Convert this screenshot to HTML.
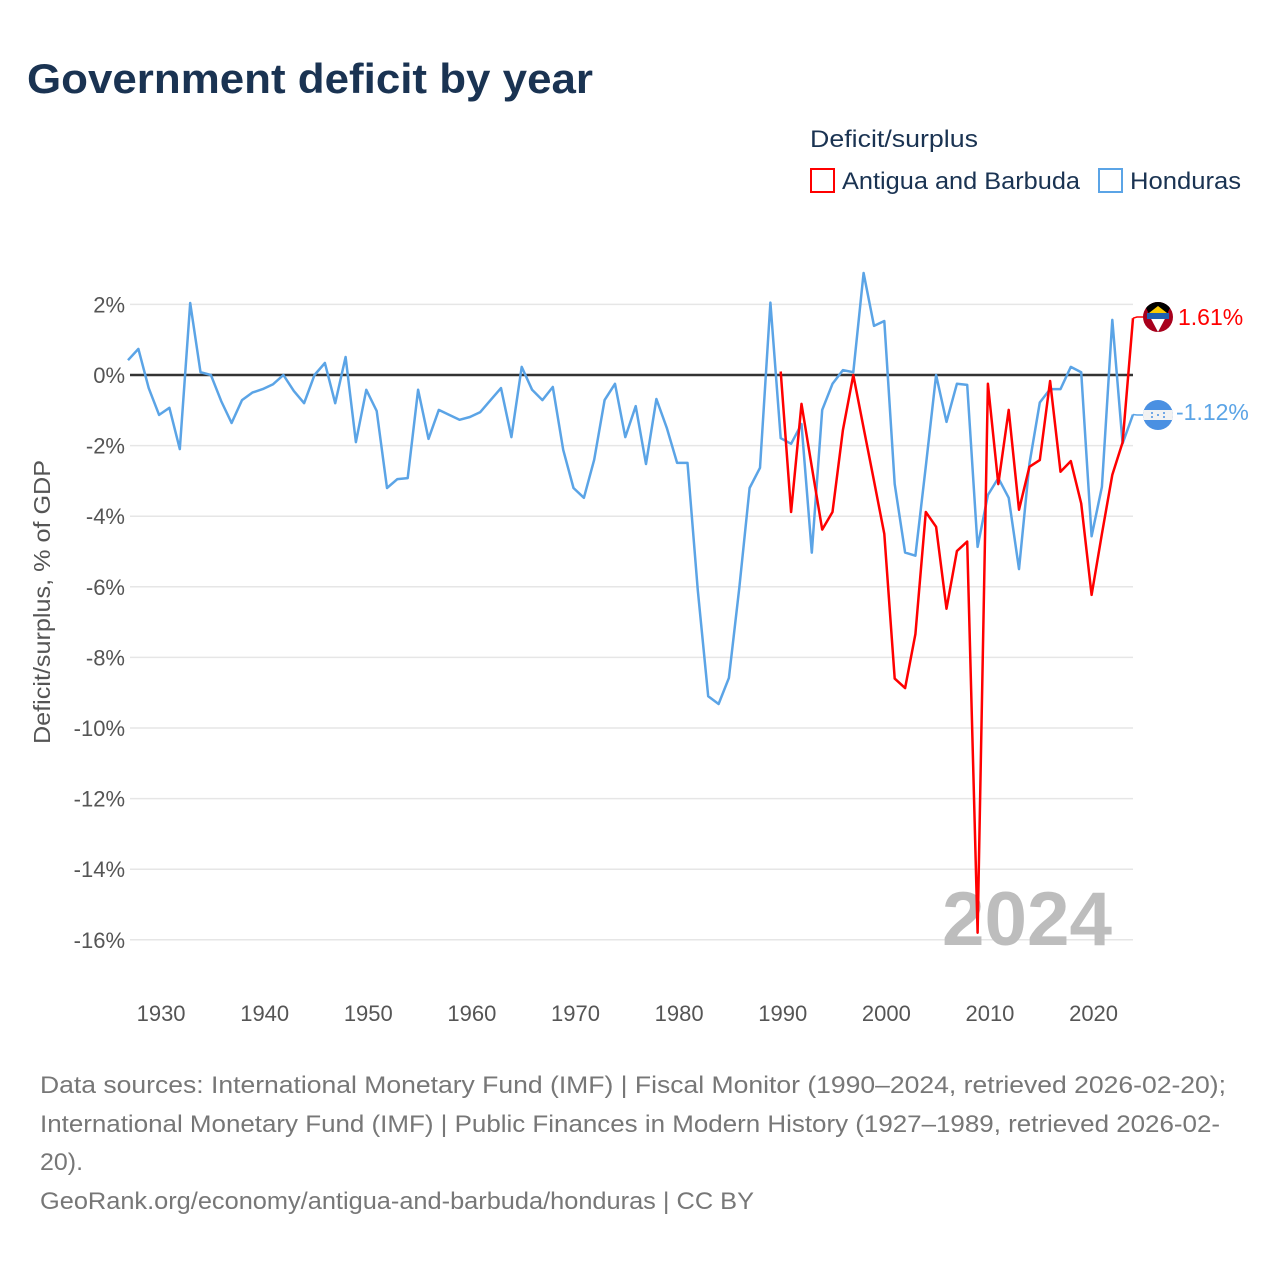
<!DOCTYPE html>
<html><head><meta charset="utf-8"><style>
html,body{margin:0;padding:0;background:#fff;}
svg{display:block;font-family:"Liberation Sans",sans-serif;}
</style></head><body>
<svg id="chart" width="1280" height="1280" viewBox="0 0 1280 1280" xmlns="http://www.w3.org/2000/svg">
<text x="27" y="93" font-size="42" font-weight="bold" fill="#1a3352" textLength="566" lengthAdjust="spacingAndGlyphs">Government deficit by year</text>
<text x="810" y="147" font-size="24" fill="#1a3352" textLength="168" lengthAdjust="spacingAndGlyphs">Deficit/surplus</text>
<g>
<rect x="811" y="169" width="23" height="23" fill="#fff" stroke="#f00" stroke-width="2"/>
<text x="842" y="189" font-size="24" fill="#1a3352" textLength="238" lengthAdjust="spacingAndGlyphs">Antigua and Barbuda</text>
</g>
<g>
<rect x="1099" y="169" width="23" height="23" fill="#fff" stroke="#5ba4e6" stroke-width="2"/>
<text x="1130" y="189" font-size="24" fill="#1a3352" textLength="111" lengthAdjust="spacingAndGlyphs">Honduras</text>
</g>
<g id="grid"></g>
<g id="yticks"></g>
<g id="xticks"></g>
<text transform="translate(50,602) rotate(-90)" text-anchor="middle" font-size="23" fill="#555" textLength="284" lengthAdjust="spacingAndGlyphs">Deficit/surplus, % of GDP</text>
<text x="942" y="945" font-size="76" font-weight="bold" fill="#bdbdbd" textLength="170" lengthAdjust="spacingAndGlyphs">2024</text>
<line id="zero" stroke="#333" stroke-width="2.5"/>
<g id="series"></g>
<g>
<clipPath id="ca"><circle cx="1158" cy="317" r="15"/></clipPath>
<g clip-path="url(#ca)"><rect x="1143" y="302" width="30" height="30" fill="#a8001c"/><polygon points="1143,302 1173,302 1158,332" fill="#000"/><polygon points="1148,313 1168,313 1158,332" fill="#fff"/><rect x="1147" y="313" width="22" height="6" fill="#1f5fb0"/><polygon points="1149,313 1167,313 1158,306" fill="#f9c900"/></g>
</g>
<g>
<clipPath id="ch"><circle cx="1158" cy="415" r="15"/></clipPath>
<g clip-path="url(#ch)"><rect x="1143" y="400" width="30" height="30" fill="#4a90e2"/><rect x="1143" y="410" width="30" height="10" fill="#f2f2f2"/><circle cx="1152" cy="413" r="1" fill="#4a90e2"/><circle cx="1164" cy="413" r="1" fill="#4a90e2"/><circle cx="1158" cy="415" r="1" fill="#4a90e2"/><circle cx="1152" cy="417" r="1" fill="#4a90e2"/><circle cx="1164" cy="417" r="1" fill="#4a90e2"/></g>
</g>
<text id="lblA" x="1178" y="325" font-size="23" fill="#f00">1.61%</text>
<text id="lblH" x="1176" y="420" font-size="23" fill="#5ba4e6">-1.12%</text>
<g font-size="24" fill="#777">
<text x="40" y="1093" textLength="1186" lengthAdjust="spacingAndGlyphs">Data sources: International Monetary Fund (IMF) | Fiscal Monitor (1990–2024, retrieved 2026-02-20);</text>
<text x="40" y="1132" textLength="1180" lengthAdjust="spacingAndGlyphs">International Monetary Fund (IMF) | Public Finances in Modern History (1927–1989, retrieved 2026-02-</text>
<text x="40" y="1170" textLength="43" lengthAdjust="spacingAndGlyphs">20).</text>
<text x="40" y="1209" textLength="714" lengthAdjust="spacingAndGlyphs">GeoRank.org/economy/antigua-and-barbuda/honduras | CC BY</text>
</g>
</svg>
<script>
const yTicks = [2,0,-2,-4,-6,-8,-10,-12,-14,-16];
const xTicks = [1930,1940,1950,1960,1970,1980,1990,2000,2010,2020];
const hondurasStart = 1927;
const hondurasValues = [0.42,0.74,-0.37,-1.13,-0.93,-2.1,2.04,0.08,0.0,-0.74,-1.36,-0.71,-0.5,-0.4,-0.26,0,-0.45,-0.8,0,0.34,-0.8,0.51,-1.9,-0.42,-1.02,-3.2,-2.95,-2.92,-0.42,-1.81,-0.99,-1.13,-1.27,-1.19,-1.05,-0.71,-0.37,-1.76,0.23,-0.42,-0.71,-0.34,-2.12,-3.2,-3.48,-2.4,-0.71,-0.25,-1.76,-0.88,-2.52,-0.68,-1.5,-2.49,-2.49,-6.1,-9.1,-9.32,-8.58,-6.03,-3.2,-2.63,2.05,-1.79,-1.95,-1.39,-5.03,-0.99,-0.25,0.14,0.08,2.89,1.39,1.53,-3.09,-5.03,-5.12,-2.59,0,-1.33,-0.25,-0.28,-4.87,-3.4,-2.92,-3.48,-5.5,-2.52,-0.78,-0.4,-0.4,0.23,0.08,-4.57,-3.17,1.56,-1.94,-1.12];
const antiguaStart = 1990;
const antiguaValues = [0.1,-3.88,-0.82,-2.6,-4.38,-3.88,-1.56,0,-1.5,-3.0,-4.5,-8.6,-8.87,-7.34,-3.88,-4.3,-6.62,-4.99,-4.72,-15.8,-0.25,-3.09,-0.99,-3.82,-2.6,-2.41,-0.17,-2.74,-2.44,-3.64,-6.23,-4.5,-2.83,-1.91,1.61];
const NS='http://www.w3.org/2000/svg';
const x = yr => 128 + (yr-1927)*(1005/97);
const y = v => 375 - v*35.3;
const X0 = 130, X1 = 1133;
function mk(tag, attrs, parent){const e=document.createElementNS(NS,tag);for(const k in attrs)e.setAttribute(k,attrs[k]);parent.appendChild(e);return e;}
const grid=document.getElementById('grid'), yt=document.getElementById('yticks'), xt=document.getElementById('xticks');
yTicks.forEach(v=>{
  const l=mk('line',{x1:X0,x2:X1,y1:y(v),y2:y(v),stroke:'#e6e6e6','stroke-width':1.5},grid);
  
  
  const t=mk('text',{x:125,y:y(v)+8,'text-anchor':'end','font-size':22,fill:'#555'},yt);
  
  
  t.textContent=v+'%';
});
xTicks.forEach(yr=>{
  const t=mk('text',{x:x(yr)+2,y:1021,'text-anchor':'middle','font-size':22,fill:'#555'},xt);
  
  
  t.textContent=yr;
});
const z=document.getElementById('zero');
z.setAttribute('x1',X0);z.setAttribute('x2',X1);z.setAttribute('y1',y(0));z.setAttribute('y2',y(0));
const s=document.getElementById('series');
function line(vals,start,color,name,labelY){
  let pts=vals.map((v,i)=>x(start+i).toFixed(1)+','+y(v).toFixed(1));
  const last=vals[vals.length-1];
  const p=mk('polyline',{points:pts.join(' '),fill:'none',stroke:color,'stroke-width':2.5,'stroke-linejoin':'round'},s);
  
  
  const lx=x(start+vals.length-1);
  const c=mk('polyline',{points:lx+','+y(last)+' '+(lx+4)+','+labelY+' '+1143+','+labelY,fill:'none',stroke:color,'stroke-width':1.5},s);
  
  
}
line(hondurasValues,hondurasStart,'#5ba4e6','honduras-line',415);
line(antiguaValues,antiguaStart,'#f00','antigua-line',317);
document.getElementById('lblA').textContent=antiguaValues[antiguaValues.length-1].toFixed(2)+'%';
document.getElementById('lblH').textContent=hondurasValues[hondurasValues.length-1].toFixed(2)+'%';
</script>
</body></html>
